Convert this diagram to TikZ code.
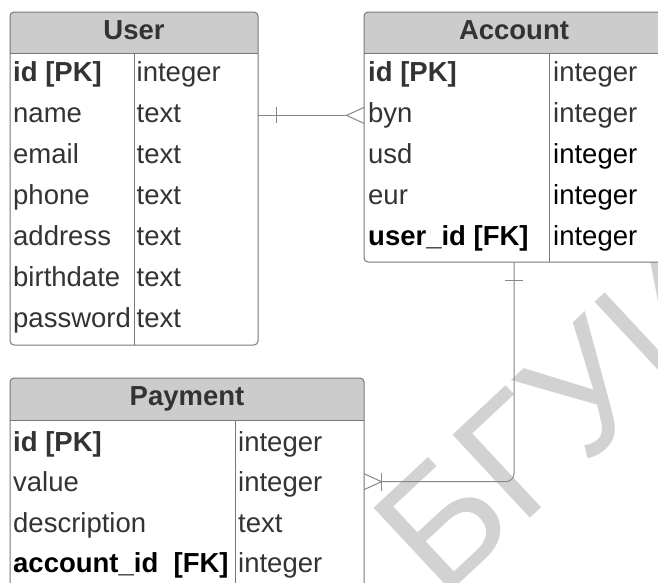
\documentclass[tikz,border=0pt]{standalone}
\usepackage{fontspec}
\setmainfont{Liberation Sans}
\usetikzlibrary{calc}
\definecolor{hdr}{RGB}{204,204,204}
\definecolor{bord}{RGB}{120,120,120}
\definecolor{txt}{RGB}{51,51,51}
\definecolor{lnk}{RGB}{135,135,135}
\definecolor{wm}{RGB}{210,210,210}
\begin{document}
\begin{tikzpicture}[x=1pt,y=-1pt,
  tbl/.style={inner sep=0pt, outer sep=0pt, anchor=north west, fill=white},
  border/.style={draw=bord, line width=1pt, rounded corners=4pt},
  rule/.style={draw=bord, line width=1pt},
  cell/.style={anchor=base west, inner sep=0pt, text=txt, font=\fontsize{27.5}{30}\selectfont},
  key/.style={cell, font=\fontsize{27.5}{30}\selectfont\bfseries},
  fk/.style={key, text=black},
  dark/.style={cell, text=black},
  hd/.style={anchor=base, inner sep=0pt, text=txt, font=\fontsize{27.5}{30}\selectfont\bfseries},
  link/.style={draw=lnk, line width=1pt},
]
\useasboundingbox (0,0) rectangle (658,582);
\fill[white] (0,0) rectangle (658,582);
% watermark
\begin{scope}
\clip (0,0) rectangle (658,582);
\node[rotate=43, anchor=base west, inner sep=0pt, text=wm, font=\fontsize{165}{165}\selectfont] (wmark) at (441,601) {БГУИР};
\end{scope}
% ---------- User ----------
\node[tbl, minimum width=248pt, minimum height=333pt] (user) at (10,12) {};
\begin{scope}
\clip[rounded corners=4pt] (user.north west) rectangle (user.south east);
\fill[hdr] (user.north west) rectangle ($(user.north east)+(0,41)$);
\end{scope}
\draw[border] (user.north west) rectangle (user.south east);
\draw[rule] ($(user.north west)+(0,41)$) -- ($(user.north east)+(0,41)$);
\draw[rule] (134,53) -- (134,345);
\node[hd] (userh) at (134,39.5) {User};
\node[key] (uid) at (13,81.5) {id [PK]};
\node[cell] (uname) at (13,122.5) {name};
\node[cell] (uemail) at (13,163.5) {email};
\node[cell] (uphone) at (13,204.5) {phone};
\node[cell] (uaddr) at (13,245.5) {address};
\node[cell] (ubirth) at (13,286.5) {birthdate};
\node[cell] (upass) at (13,327.5) {password};
\node[cell] (uidt) at (136.5,81.5) {integer};
\node[cell] (unamet) at (136.5,122.5) {text};
\node[cell] (uemailt) at (136.5,163.5) {text};
\node[cell] (uphonet) at (136.5,204.5) {text};
\node[cell] (uaddrt) at (136.5,245.5) {text};
\node[cell] (ubirtht) at (136.5,286.5) {text};
\node[cell] (upasst) at (136.5,327.5) {text};
% ---------- Account ----------
\node[tbl, minimum width=300pt, minimum height=250pt] (acct) at (364,12) {};
\begin{scope}
\clip[rounded corners=4pt] (acct.north west) rectangle (acct.south east);
\fill[hdr] (acct.north west) rectangle ($(acct.north east)+(0,41)$);
\end{scope}
\draw[border] (acct.north west) rectangle (acct.south east);
\draw[rule] ($(acct.north west)+(0,41)$) -- ($(acct.north east)+(0,41)$);
\draw[rule] (549,53) -- (549,262);
\node[hd] (accth) at (514,39.5) {Account};
\node[key] (aid) at (368,81.5) {id [PK]};
\node[cell] (abyn) at (368,122.5) {byn};
\node[cell] (ausd) at (368,163.5) {usd};
\node[cell] (aeur) at (368,204.5) {eur};
\node[fk] (auid) at (368,245.5) {user\_id [FK]};
\node[cell] (aidt) at (553,81.5) {integer};
\node[cell] (abynt) at (553,122.5) {integer};
\node[dark] (ausdt) at (553,163.5) {integer};
\node[dark] (aeurt) at (553,204.5) {integer};
\node[dark] (auidt) at (553,245.5) {integer};
% ---------- Payment ----------
\node[tbl, minimum width=354pt, minimum height=215pt] (pay) at (10,378) {};
\begin{scope}
\clip[rounded corners=4pt] (pay.north west) rectangle (pay.south east);
\fill[hdr] (pay.north west) rectangle ($(pay.north east)+(0,42)$);
\end{scope}
\draw[border] (pay.north west) rectangle (pay.south east);
\draw[rule] ($(pay.north west)+(0,42)$) -- ($(pay.north east)+(0,42)$);
\draw[rule] (235,420) -- (235,593);
\node[hd] (payh) at (187,405) {Payment};
\node[key] (pid) at (13,451) {id [PK]};
\node[cell] (pval) at (13,491.5) {value};
\node[cell] (pdesc) at (13,532) {description};
\node[fk] (pacc) at (13,572.5) {account\_id~~[FK]};
\node[cell] (pidt) at (238,451) {integer};
\node[cell] (pvalt) at (238,491.5) {integer};
\node[cell] (pdesct) at (238,532) {text};
\node[cell] (pacct) at (238,572.5) {integer};
% ---------- links ----------
\coordinate (c1s) at (user.east |- abyn.west);
\coordinate (c1e) at (acct.west |- abyn.west);
\draw[link] (c1s) -- ($(c1e)+(-17.5,0)$);
\draw[link] ($(c1s)+(18,-8)$) -- ($(c1s)+(18,8)$);
\draw[link] ($(c1e)+(0,-8)$) -- ($(c1e)+(-17.5,0)$) -- ($(c1e)+(0,8)$);
\coordinate (c2s) at (acct.south);
\coordinate (c2e) at (pay.east |- pval.west);
\draw[link, rounded corners=8pt] (c2s) |- ($(c2e)+(17.5,0)$);
\draw[link] ($(c2s)+(-9,18)$) -- ($(c2s)+(9,18)$);
\draw[link] ($(c2e)+(17.5,-9)$) -- ($(c2e)+(17.5,9)$);
\draw[link] ($(c2e)+(0,-8)$) -- ($(c2e)+(17.5,0)$) -- ($(c2e)+(0,8)$);
\end{tikzpicture}
\end{document}
